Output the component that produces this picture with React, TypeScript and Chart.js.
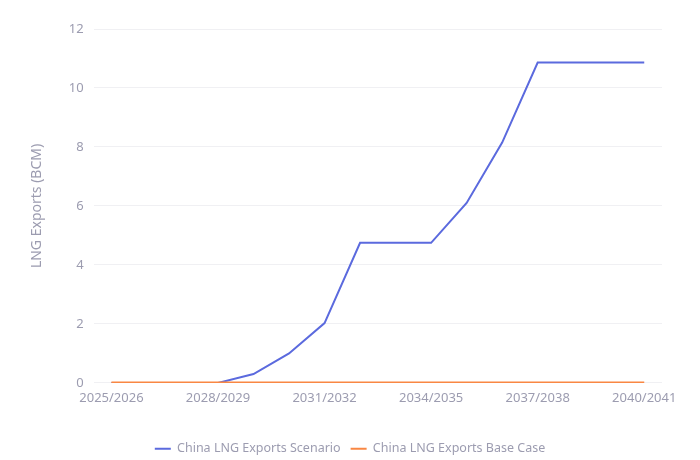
import React, { useEffect, useRef } from "react";
import { Chart, registerables } from "chart.js";

Chart.register(...registerables);

const years: string[] = [
  "2025/2026", "2026/2027", "2027/2028", "2028/2029", "2029/2030", "2030/2031",
  "2031/2032", "2032/2033", "2033/2034", "2034/2035", "2035/2036", "2036/2037",
  "2037/2038", "2038/2039", "2039/2040", "2040/2041",
];

const scenario: number[] = [0, 0, 0, 0, 0.3, 1.0, 2.03, 4.75, 4.75, 4.75, 6.1, 8.15, 10.86, 10.86, 10.86, 10.86];
const baseCase: number[] = [0, 0, 0, 0, 0, 0, 0, 0, 0, 0, 0, 0, 0, 0, 0, 0];

const yTicks: number[] = [0, 2, 4, 6, 8, 10, 12];

const TEXT = "#9c9cb0";
const FONT = "'Noto Sans', 'Open Sans', sans-serif";

// Centre the legend on the whole canvas rather than on the padded layout area.
const centerLegend = {
  id: "centerLegend",
  afterLayout(chart: any) {
    const legend = chart.legend;
    if (!legend) return;
    const shift = (chart.width - (legend.left + legend.right)) / 2;
    legend.left += shift;
    legend.right += shift;
  },
};

export default function App() {
  const ref = useRef<HTMLCanvasElement | null>(null);

  useEffect(() => {
    if (!ref.current) return;
    const chart = new Chart(ref.current, {
      type: "line",
      data: {
        labels: years,
        datasets: [
          {
            label: "China LNG Exports Scenario",
            data: scenario,
            borderColor: "#5b6ade",
            backgroundColor: "#5b6ade",
            borderWidth: 2,
            pointRadius: 0,
            tension: 0,
            order: 1,
          },
          {
            label: "China LNG Exports Base Case",
            data: baseCase,
            borderColor: "#f98743",
            backgroundColor: "#f98743",
            borderWidth: 3,
            pointRadius: 0,
            tension: 0,
            order: 0,
          },
        ],
      },
      options: {
        responsive: false,
        animation: false,
        layout: { padding: { top: 29, right: 38, left: 25, bottom: -5 } },
        plugins: {
          legend: {
            position: "bottom",
            labels: {
              color: TEXT,
              font: { family: FONT, size: 12.5 },
              boxWidth: 16,
              boxHeight: 2,
              padding: 10,
              sort: (a, b) => a.datasetIndex - b.datasetIndex,
              generateLabels: (c) =>
                Chart.defaults.plugins.legend.labels
                  .generateLabels(c)
                  .map((item) => ({ ...item, lineWidth: 0 })),
            },
          },
          tooltip: { enabled: false },
        },
        scales: {
          x: {
            offset: true,
            grid: { display: false },
            border: { display: false },
            afterFit: (scale) => {
              scale.height += 26;
            },
            ticks: {
              color: TEXT,
              font: { family: FONT, size: 13 },
              autoSkip: false,
              maxRotation: 0,
              padding: 0,
              callback: (_v, i) => (i % 3 === 0 ? years[i] : ""),
            },
          },
          y: {
            min: 0,
            max: 12,
            afterBuildTicks: (axis) => {
              axis.ticks = yTicks.map((v) => ({ value: v }));
            },
            grid: { color: "#f0f0f3", drawTicks: false },
            border: { display: false },
            ticks: {
              color: TEXT,
              font: { family: FONT, size: 13 },
              padding: 10,
            },
            title: {
              display: true,
              text: "LNG Exports (BCM)",
              color: TEXT,
              font: { family: FONT, size: 14 },
              padding: { bottom: 13 },
            },
          },
        },
      },
      plugins: [centerLegend],
    });
    return () => chart.destroy();
  }, []);

  return (
    <div style={{ position: "fixed", left: 0, top: 0, width: 700, height: 460, background: "#fff" }}>
      <canvas ref={ref} width={700} height={460} />
    </div>
  );
}
